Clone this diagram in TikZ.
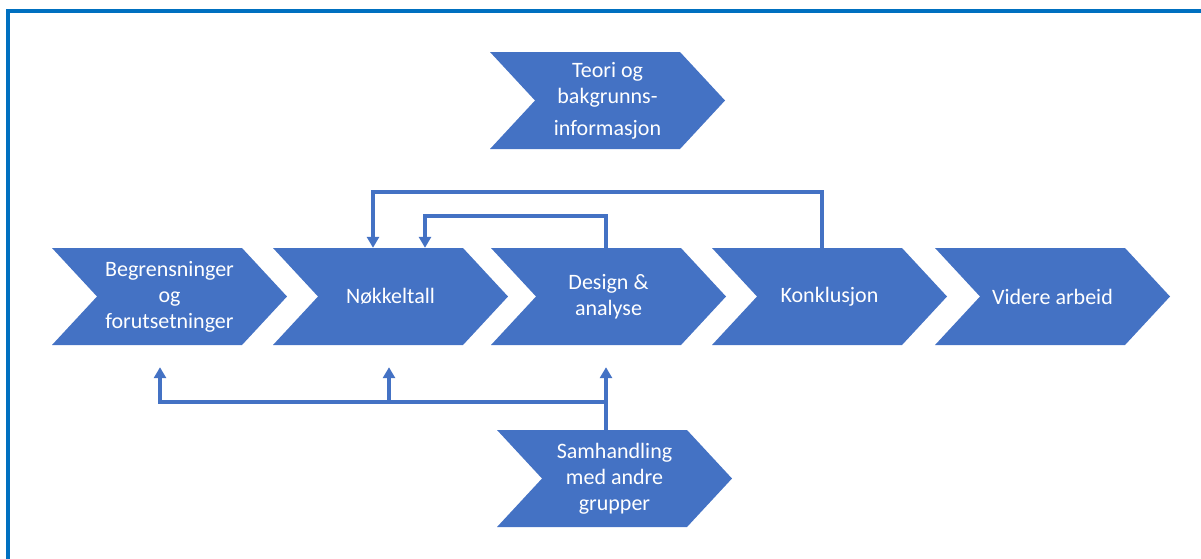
\documentclass[tikz,border=0pt]{standalone}
\usepackage{fontspec}
\setmainfont{Carlito}
\usetikzlibrary{arrows.meta,calc}
\definecolor{cb}{HTML}{4472C4}
\definecolor{fr}{HTML}{0070C0}
\tikzset{
  txt/.style={inner sep=0pt, minimum width=145pt, minimum height=97pt, align=center,
    text=white, font=\fontsize{22}{26}\selectfont},
  conn/.style={draw=cb, line width=3.5pt},
  arr/.style={conn, -{Triangle[width=12pt,length=11pt]}},
  frame/.style={draw=fr, line width=4pt}
}
\newcommand\chev[4]{%
  \fill[cb] (#2,#3) -- ++(190,0) -- ++(45,48.5) -- ++(-45,48.5) -- ++(-190,0) -- ++(45,-48.5) -- cycle;
  \node[txt] (#1) at (#2+117.5,#3+48.5) {#4};
}
\begin{document}
\begin{tikzpicture}[x=1pt,y=-1pt]
\useasboundingbox (0,0) rectangle (1201,558);
\draw[frame] (8,560) -- (8,10.5) -- (1203,10.5);
\chev{t}{490}{52}{Teori og\\bakgrunns-\\[6pt]informasjon}
\chev{b}{52}{248}{Begrensninger\\og\\forutsetninger}
\chev{n}{273}{248}{Nøkkeltall}
\chev{d}{491}{248}{Design \&\\analyse}
\chev{k}{712}{248}{Konklusjon}
\chev{v}{935}{248}{Videre arbeid}
\chev{s}{497}{430}{Samhandling\\med andre\\grupper}
% top feedback loops
\draw[arr] ([xshift=-7.5pt]k.north) -- ++(0,-56) -| ([xshift=-17.5pt]n.north);
\draw[arr] ([xshift=-2.5pt]d.north) -- ++(0,-32) -| ([xshift=34.5pt]n.north);
% bottom connectors
\coordinate (sb) at ([xshift=-8.5pt]s.north);
\draw[arr] (sb) -- ([xshift=-2.5pt,yshift=-22pt]d.south);
\draw[arr] (sb) ++(0,-28) -| ([xshift=-9.5pt,yshift=-22pt]b.south);
\draw[arr] ([xshift=-1.5pt,yshift=-57pt]n.south) -- ([xshift=-1.5pt,yshift=-22pt]n.south);
\end{tikzpicture}
\end{document}
